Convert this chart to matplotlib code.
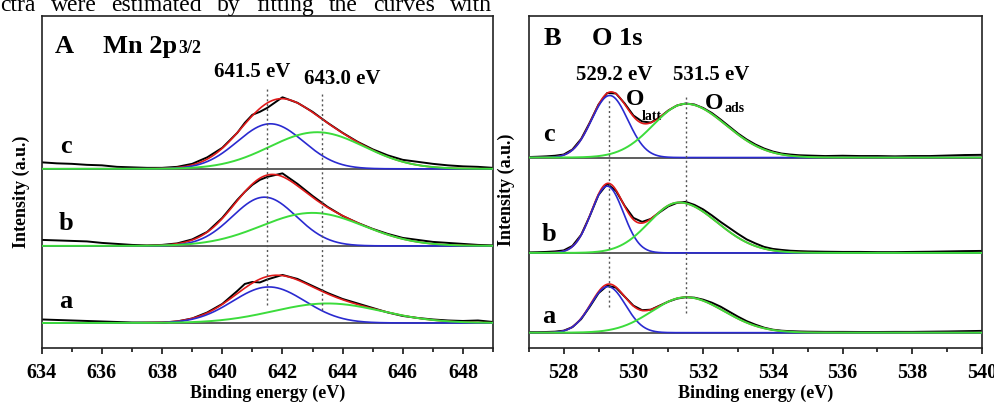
import numpy as np
import matplotlib.pyplot as plt

plt.rcParams['font.family'] = ['Liberation Serif', 'DejaVu Serif']
plt.rcParams['font.weight'] = 'bold'
plt.rcParams['axes.labelweight'] = 'bold'

# ---- data (intensity in a.u., measured above each spectrum's own baseline) ----
samples = ['a', 'b', 'c']

# Mn 2p3/2
mn_energy = [634, 634.5, 635, 635.5, 636, 636.5, 637, 637.5, 638, 638.5, 639, 639.5,
             640, 640.5, 640.75, 641, 641.25, 641.5, 642, 642.5, 643, 643.5, 644,
             644.5, 645, 645.5, 646, 646.5, 647, 647.5, 648, 648.5, 649]
mn_raw_a = [3.5, 3, 2.5, 2, 1.5, 1, 0.5, 0.5, 0.5, 1.5, 4.5, 10.5,
            19, 32, 39, 41, 40.5, 43.5, 48, 44, 37, 30, 24,
            19.5, 15, 10.5, 7, 5, 3.5, 2.5, 2, 2.5, 1]
mn_raw_b = [6, 5.5, 5, 4.5, 3, 2, 1, 0.5, 1, 2.5, 6.5, 14,
            28, 46, 54, 61, 66, 69, 72.5, 62, 50, 39, 30,
            23, 17, 12, 8, 6, 4, 3, 2, 1, 0.5]
mn_raw_c = [6.5, 5.5, 5, 4, 3.5, 2, 1.5, 1, 1, 2, 5, 11.5,
            21, 36, 46, 54, 57, 61, 71.5, 66, 57, 46, 36,
            27, 19.5, 13.5, 9, 7, 5, 3.5, 2.5, 2, 1]
# fitted components: centre (eV), height, left width, right width
mn_blue = {'a': [641.55, 36, 1.2, 1.2], 'b': [641.4, 48.7, 1.06, 1.06], 'c': [641.6, 45, 1.1, 1.1]}
mn_green = {'a': [643.5, 19.5, 1.8, 1.8], 'b': [643.0, 33, 1.7, 1.7], 'c': [643.15, 36.6, 1.57, 1.57]}
mn_offset = {'a': 25, 'b': 102, 'c': 179}

# O 1s
o_energy = [527, 527.25, 527.5, 527.75, 528, 528.25, 528.5, 528.75, 529, 529.25, 529.5,
            529.75, 530, 530.25, 530.5, 530.75, 531, 531.25, 531.5, 531.75, 532, 532.25,
            532.5, 532.75, 533, 533.25, 533.5, 533.75, 534, 534.25, 534.5, 534.75, 535,
            535.5, 536, 536.5, 537, 537.5, 538, 538.5, 539, 539.5, 540]
o_raw_a = [0.5, 0.5, 0.7, 1, 2, 5.5, 13.5, 26, 39.5, 47, 45,
           36, 27, 22.5, 23, 27, 31, 34, 35.5, 35, 33, 30,
           26, 21, 16, 11.5, 8, 5, 3, 2, 1.5, 1.2, 1,
           0.8, 0.8, 0.7, 0.7, 0.8, 0.8, 1, 1.2, 1.5, 1.8]
o_raw_b = [0.5, 0.7, 1, 1.5, 2.5, 7, 18, 37, 58, 69, 62,
           47, 35, 31, 34, 40.5, 46.5, 50, 51, 48, 43.5, 37.5,
           31, 25, 19, 13.5, 9.5, 6, 4, 3, 2.2, 1.8, 1.5,
           1.2, 1, 1, 0.8, 0.8, 1, 1.2, 1.5, 1.8, 2]
o_raw_c = [0.5, 0.8, 1.2, 1.8, 3, 8, 18.5, 35, 53, 64.5, 64,
           54, 42, 36, 35, 40, 47, 52, 54, 53, 49.5, 44.5,
           38, 31, 24, 18, 13, 9, 6, 4, 3, 2.3, 2,
           1.5, 1.8, 1.5, 1.5, 1.2, 1.5, 1.5, 2, 2.5, 2.7]
o_blue = {'a': [529.27, 46, 0.5, 0.5], 'b': [529.25, 66.7, 0.46, 0.46], 'c': [529.32, 62, 0.52, 0.52]}
o_green = {'a': [531.5, 35.4, 0.97, 1.1], 'b': [531.3, 50.4, 0.85, 1.1], 'c': [531.5, 53.7, 0.93, 1.15]}
o_offset = {'a': 15.3, 'b': 95, 'c': 190.3}

GREEN = '#3cdc3c'
BLUE = '#2a2ad0'
RED = '#e01a1a'


def peak(x, p):
    c, h, sl, sr = p
    s = np.where(x < c, sl, sr)
    return h * np.exp(-(x - c) ** 2 / (2 * s ** 2))


def draw_panel(ax, energy, raws, blues, greens, offsets, xlim, first_tick):
    xf = np.linspace(xlim[0], xlim[1], 600)
    for s, raw in zip(samples, raws):
        off = offsets[s]
        b = peak(xf, blues[s])
        g = peak(xf, greens[s])
        ax.plot(xlim, [off, off], color='#505050', lw=1.3, zorder=1)
        ax.plot(energy, off + np.array(raw), color='black', lw=1.4, zorder=2)
        ax.plot(xf, off + b + g, color=RED, lw=1.2, zorder=3)
        ax.plot(xf, off + b, color=BLUE, lw=1.2, zorder=4)
        ax.plot(xf, off + g, color=GREEN, lw=1.4, zorder=5)
    ax.set_xlim(*xlim)
    ax.set_ylim(0, 332)
    ax.set_yticks([])
    ax.set_xticks(np.arange(first_tick, xlim[1] + 0.1, 2))
    ax.set_xticks(np.arange(xlim[0], xlim[1] + 0.1, 1), minor=True)
    ax.tick_params(axis='x', which='major', direction='out', length=4, width=1.1,
                   labelsize=14.5, pad=7)
    ax.tick_params(axis='x', which='minor', direction='out', length=3, width=1.1)
    for sp in ax.spines.values():
        sp.set_linewidth(1.2)
        sp.set_color('#222222')


fig = plt.figure(figsize=(9.94, 4.03), dpi=100)
axA = fig.add_axes([0.042, 0.1365, 0.454, 0.8245])
axB = fig.add_axes([0.532, 0.1365, 0.456, 0.8245])

draw_panel(axA, mn_energy, [mn_raw_a, mn_raw_b, mn_raw_c], mn_blue, mn_green, mn_offset,
           (634, 649), 634)
draw_panel(axB, o_energy, [o_raw_a, o_raw_b, o_raw_c], o_blue, o_green, o_offset,
           (527, 540), 528)

dot = dict(color='#555555', lw=1.0, ls=(0, (1.5, 2)), zorder=6)
axA.plot([641.5, 641.5], [43, 260], **dot)
axA.plot([643.3, 643.3], [38, 255], **dot)
axB.plot([529.3, 529.3], [41, 248], **dot)
axB.plot([531.5, 531.5], [35, 251], **dot)

# panel A labels
axA.text(634.44, 294.7, 'A', fontsize=19, va='baseline')
axA.text(636.04, 294.7, 'Mn 2p', fontsize=19, va='baseline')
axA.text(638.55, 294.7, '3/2', fontsize=13, va='baseline')
axA.text(641.0, 276, '641.5 eV', fontsize=15, ha='center', va='center')
axA.text(643.98, 269, '643.0 eV', fontsize=15, ha='center', va='center')
for s, y in zip(samples, [46, 124, 201]):
    axA.text(634.8, y, s, fontsize=19, ha='center', va='center')
axA.set_xlabel('Binding energy (eV)', fontsize=13, labelpad=1)

# panel B labels
axB.text(527.43, 303, 'B', fontsize=19, va='baseline')
axB.text(528.80, 303, 'O 1s', fontsize=19, va='baseline')
axB.text(529.44, 272.5, '529.2 eV', fontsize=15, ha='center', va='center')
axB.text(532.22, 272.5, '531.5 eV', fontsize=15, ha='center', va='center')
axB.text(529.78, 248.5, 'O', fontsize=17, va='center')
axB.text(530.23, 231, 'latt', fontsize=10, va='center')
axB.text(532.06, 244, 'O', fontsize=17, va='center')
axB.text(532.62, 239, 'ads', fontsize=10, va='center')
for s, y in zip(samples, [31, 113, 213]):
    axB.text(527.57, y, s, fontsize=19, ha='center', va='center')
axB.set_xlabel('Binding energy (eV)', fontsize=13, labelpad=1)

fig.text(21 / 994, 1 - 192 / 403, 'Intensity (a.u.)', fontsize=13, rotation=90,
         ha='center', va='center')
fig.text(506 / 994, 1 - 190 / 403, 'Intensity (a.u.)', fontsize=13, rotation=90,
         ha='center', va='center')

# clipped line of the surrounding paper text, justified between x=0 and x=492 px
words = ['ctra', 'were', 'estimated', 'by', 'fitting', 'the', 'curves', 'with']
fig.canvas.draw()
renderer = fig.canvas.get_renderer()
objs = [fig.text(0, 1 - 10.7 / 403, w, fontsize=17, fontweight='normal',
                 va='baseline', ha='left') for w in words]
widths = [t.get_window_extent(renderer).width for t in objs]
gap = (492 - sum(widths)) / (len(words) - 1)
x = 0.0
for t, w in zip(objs, widths):
    t.set_x(x / 994)
    x += w + gap

fig.savefig('out.png', dpi=100)
